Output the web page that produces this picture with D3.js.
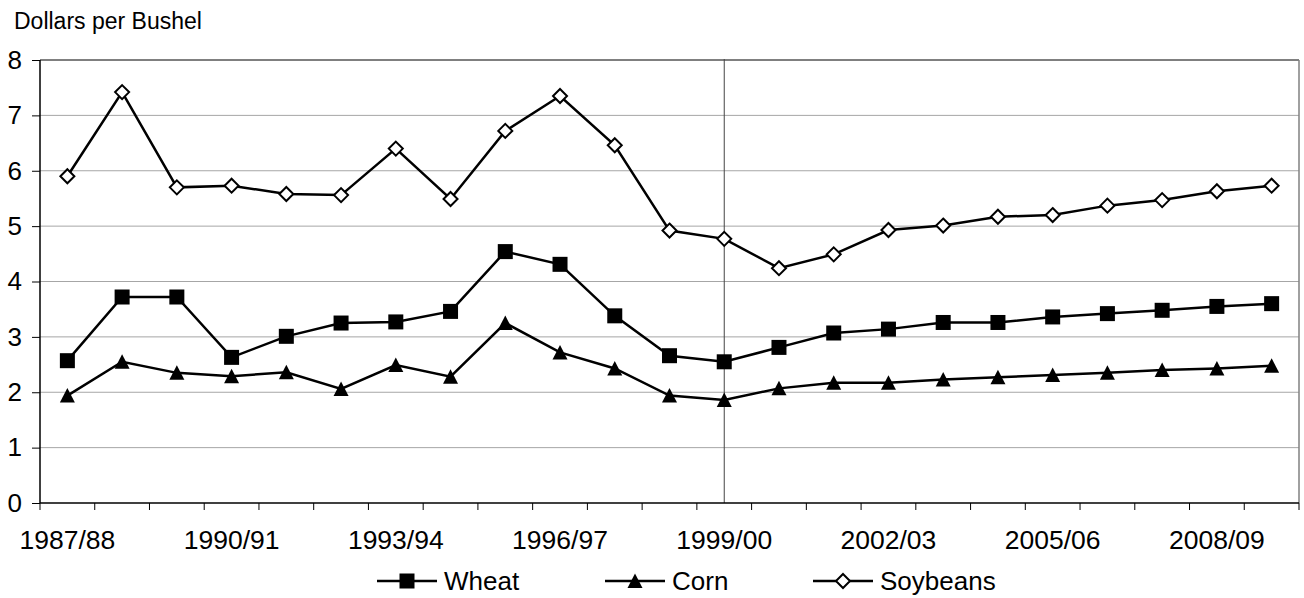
<!DOCTYPE html>
<html>
<head>
<meta charset="utf-8">
<script src="https://cdn.jsdelivr.net/npm/d3@7"></script>
<style>
  body { margin: 0; background: #fff; }
  text { font-family: Arial, "Liberation Sans", sans-serif; fill: #000; }
</style>
</head>
<body>
<div id="chart"></div>
<script>
// --------------------------------------
//  Data
// --------------------------------------

const years = ["1987/88", "1988/89", "1989/90", "1990/91", "1991/92", "1992/93", "1993/94",
  "1994/95", "1995/96", "1996/97", "1997/98", "1998/99", "1999/00", "2000/01", "2001/02",
  "2002/03", "2003/04", "2004/05", "2005/06", "2006/07", "2007/08", "2008/09", "2009/10"];

const wheat = [2.57, 3.72, 3.72, 2.63, 3.01, 3.25, 3.27, 3.46, 4.54, 4.31, 3.38, 2.66,
  2.55, 2.81, 3.07, 3.14, 3.26, 3.26, 3.36, 3.42, 3.48, 3.55, 3.60];

const corn = [1.94, 2.55, 2.35, 2.29, 2.36, 2.06, 2.49, 2.28, 3.25, 2.72, 2.43, 1.94,
  1.86, 2.07, 2.17, 2.17, 2.23, 2.27, 2.31, 2.35, 2.40, 2.43, 2.48];

const soybeans = [5.90, 7.42, 5.70, 5.73, 5.58, 5.56, 6.40, 5.49, 6.72, 7.35, 6.46, 4.92,
  4.77, 4.24, 4.49, 4.93, 5.01, 5.17, 5.20, 5.37, 5.47, 5.63, 5.73];

const yTicks = [0, 1, 2, 3, 4, 5, 6, 7, 8];
const labelYears = ["1987/88", "1990/91", "1993/94", "1996/97", "1999/00", "2002/03", "2005/06", "2008/09"];
const markerYear = "1999/00";

const series = [
  { name: "Wheat", values: wheat, symbol: "square" },
  { name: "Corn", values: corn, symbol: "triangle" },
  { name: "Soybeans", values: soybeans, symbol: "diamond" }
];

// --------------------------------------
//  Canvas
// --------------------------------------

const width = 1304;
const height = 598;
const margin = { top: 60, right: 5, bottom: 95, left: 40 };
const innerwidth = width - margin.left - margin.right;
const innerheight = height - margin.top - margin.bottom;

const svg = d3.select("#chart")
  .append("svg")
  .attr("width", width)
  .attr("height", height);

const innerChart = svg.append("g")
  .attr("transform", `translate(${margin.left}, ${margin.top})`);

// --------------------------------------
//  Scales
// --------------------------------------

const band = d3.scaleBand(years, [0, innerwidth]);
const x = d => band(d) + band.bandwidth() / 2;
const y = d3.scaleLinear([0, 8], [innerheight, 0]);

// marker shapes
function drawMarker(sel, symbol) {
  if (symbol === "square") {
    sel.append("rect")
      .attr("x", -7.5).attr("y", -7.5)
      .attr("width", 15).attr("height", 15)
      .attr("fill", "#000");
  } else if (symbol === "triangle") {
    sel.append("path")
      .attr("d", "M0,-7.5L7.5,7L-7.5,7Z")
      .attr("fill", "#000");
  } else {
    sel.append("path")
      .attr("d", "M0,-7L7,0L0,7L-7,0Z")
      .attr("fill", "#fff")
      .attr("stroke", "#000")
      .attr("stroke-width", 2);
  }
}

// --------------------------------------
//  Gridlines and frame
// --------------------------------------

innerChart.selectAll("line.grid")
  .data(yTicks.filter(d => d > 0 && d < 8))
  .join("line")
  .attr("class", "grid")
  .attr("x1", 0)
  .attr("x2", innerwidth)
  .attr("y1", d => y(d))
  .attr("y2", d => y(d))
  .attr("stroke", "#a6a6a6")
  .attr("stroke-width", 1);

innerChart.append("line")
  .attr("x1", 0).attr("x2", innerwidth)
  .attr("y1", y(8)).attr("y2", y(8))
  .attr("stroke", "#000").attr("stroke-width", 1);

innerChart.append("line")
  .attr("x1", innerwidth).attr("x2", innerwidth)
  .attr("y1", y(8)).attr("y2", y(0))
  .attr("stroke", "#808080").attr("stroke-width", 1.5);

innerChart.append("line")
  .attr("x1", x(markerYear)).attr("x2", x(markerYear))
  .attr("y1", y(8) - 1).attr("y2", y(0))
  .attr("stroke", "#444").attr("stroke-width", 1);

// --------------------------------------
//  Axes
// --------------------------------------

const yAxis = innerChart.append("g")
  .call(d3.axisLeft(y).tickValues(yTicks).tickSize(8).tickPadding(10).tickFormat(d3.format("d")));
yAxis.select(".domain").attr("stroke", "#000").attr("stroke-width", 1.5).attr("d", `M0,${y(8)}V${y(0)}`);
yAxis.selectAll(".tick line").attr("stroke", "#000");
yAxis.selectAll(".tick text").attr("font-size", 26).attr("fill", "#000");

const xAxis = innerChart.append("g")
  .attr("transform", `translate(0,${innerheight})`);

xAxis.append("line")
  .attr("x1", 0).attr("x2", innerwidth)
  .attr("stroke", "#000").attr("stroke-width", 1.5);

xAxis.selectAll("line.xtick")
  .data(d3.range(years.length + 1))
  .join("line")
  .attr("class", "xtick")
  .attr("x1", i => i * band.step())
  .attr("x2", i => i * band.step())
  .attr("y1", 0).attr("y2", 7)
  .attr("stroke", "#000");

xAxis.selectAll("text.xlabel")
  .data(labelYears)
  .join("text")
  .attr("class", "xlabel")
  .attr("x", d => x(d))
  .attr("y", 46)
  .attr("text-anchor", "middle")
  .attr("font-size", 26.5)
  .text(d => d);

svg.append("text")
  .attr("x", 14)
  .attr("y", 29)
  .attr("font-size", 23)
  .text("Dollars per Bushel");

// --------------------------------------
//  Lines and markers
// --------------------------------------

const line = d3.line()
  .x((d, i) => x(years[i]))
  .y(d => y(d));

series.forEach(s => {
  innerChart.append("path")
    .datum(s.values)
    .attr("d", line)
    .attr("fill", "none")
    .attr("stroke", "#000")
    .attr("stroke-width", 2.5);

  innerChart.selectAll(`g.m-${s.symbol}`)
    .data(s.values)
    .join("g")
    .attr("class", `m-${s.symbol}`)
    .attr("transform", (d, i) => `translate(${x(years[i])},${y(d)})`)
    .each(function() { drawMarker(d3.select(this), s.symbol); });
});

// --------------------------------------
//  Legend
// --------------------------------------

const legendX = [377, 605, 813];
const legendY = 581;

const legend = svg.selectAll("g.legend")
  .data(series)
  .join("g")
  .attr("class", "legend")
  .attr("transform", (d, i) => `translate(${legendX[i]},${legendY})`);

legend.append("line")
  .attr("x1", 0).attr("x2", 60)
  .attr("stroke", "#000").attr("stroke-width", 2.5);

legend.each(function(d) {
  const g = d3.select(this).append("g").attr("transform", "translate(30,0)");
  drawMarker(g, d.symbol);
});

legend.append("text")
  .attr("x", 67)
  .attr("y", 9)
  .attr("font-size", 26)
  .text(d => d.name);
</script>
</body>
</html>
